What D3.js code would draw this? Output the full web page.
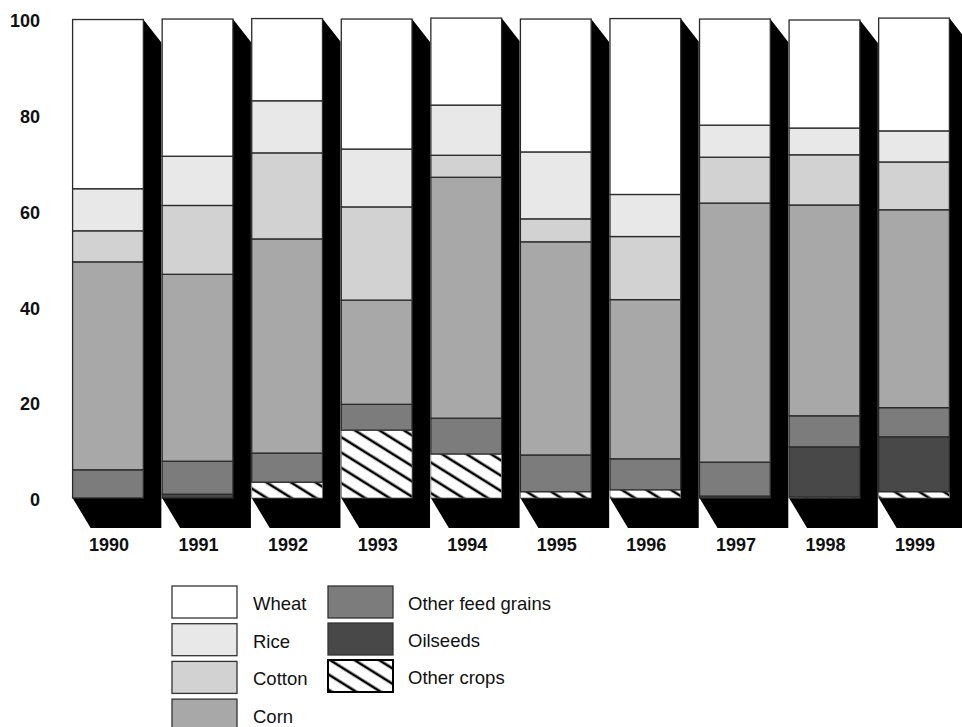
<!DOCTYPE html>
<html><head><meta charset="utf-8">
<script src="https://cdnjs.cloudflare.com/ajax/libs/d3/7.8.5/d3.min.js"></script>
<style>html,body{margin:0;padding:0;background:#fff;overflow:hidden}svg{display:block}text{font-family:"Liberation Sans",Arial,sans-serif;fill:#111}</style>
</head><body><div id="c"></div>
<script>
const years = [1990,1991,1992,1993,1994,1995,1996,1997,1998,1999];
const otherCrops = [0,0,3.3,14.2,9.2,1.3,1.7,0,0.2,1.3];
const oilseeds   = [0,0.8,0,0,0,0,0,0.4,10.5,11.5];
const feedGrains = [5.9,6.9,6.1,5.4,7.5,7.7,6.5,7.1,6.5,6.1];
const corn       = [43.5,39.1,44.8,21.8,50.4,44.6,33.3,54.2,44.1,41.4];
const cotton     = [6.5,14.4,18.0,19.5,4.6,4.8,13.2,9.6,10.5,10.0];
const rice       = [8.8,10.3,10.9,12.1,10.5,14.0,8.8,6.7,5.6,6.5];
const wheat      = [35.4,28.7,17.2,27.2,18.2,27.8,36.8,22.2,22.6,23.6];
const yTicks = [0,20,40,60,80,100];
const seriesNames = ["Other crops","Oilseeds","Other feed grains","Corn","Cotton","Rice","Wheat"];
const seriesValues = [otherCrops,oilseeds,feedGrains,corn,cotton,rice,wheat];
const seriesFills = ["url(#hatch)","#484848","#7c7c7c","#a8a8a8","#d2d2d2","#e8e8e8","#ffffff"];
const legendCol1 = ["Wheat","Rice","Cotton","Corn"];
const legendCol2 = ["Other feed grains","Oilseeds","Other crops"];

const W=962,H=727;
const FONT='"Liberation Sans",Arial,sans-serif';
const svg=d3.select("#c").append("svg").attr("width",W).attr("height",H);
const defs=svg.append("defs");
const pat=defs.append("pattern").attr("id","hatch").attr("patternUnits","userSpaceOnUse")
  .attr("width",13).attr("height",13).attr("patternTransform","rotate(32)");
pat.append("rect").attr("width",13).attr("height",13).attr("fill","#fff");
pat.append("rect").attr("y",6.6).attr("width",13).attr("height",2.6).attr("fill","#000");

const x=d3.scaleBand().domain(years).range([72.6,949.4]).paddingInner(0.21).paddingOuter(0);
const y=d3.scaleLinear().domain([0,100]).range([498,20]);
const yAxisScale=d3.scaleLinear().domain([0,100]).range([500,21]);
const depthX=18, depthBottom=30, depthTop=23;

const rows=years.map((yr,i)=>{
  let acc=0;
  const segs=seriesNames.map((n,k)=>{const v=seriesValues[k][i];const s={name:n,k,y0:acc,y1:acc+v,v};acc+=v;return s;});
  return {yr,segs,total:acc};
});

const g=svg.selectAll("g.bar").data(rows).join("g").attr("class","bar");
g.append("path").attr("fill","#000").attr("d",d=>{
  const l=x(d.yr),r=l+x.bandwidth(),t=y(d.total),b=y(0);
  return d3.line()([[r,t],[r+depthX,t+depthTop],[r+depthX,b+depthBottom],[l+depthX,b+depthBottom],[l,b],[r,b]])+"Z";
});
g.selectAll("rect").data(d=>d.segs.filter(s=>s.v>0).map(s=>({...s,yr:d.yr}))).join("rect")
  .attr("x",d=>x(d.yr)).attr("width",x.bandwidth())
  .attr("y",d=>y(d.y1)).attr("height",d=>y(d.y0)-y(d.y1))
  .attr("fill",d=>seriesFills[d.k]).attr("stroke",d=>d.k===0?"#666":"#2a2a2a").attr("stroke-width",d=>d.k===0?0.8:1.3);

const yA=svg.append("g").attr("transform","translate(40,0)").call(d3.axisLeft(yAxisScale).tickValues(yTicks).tickSize(0).tickPadding(0));
yA.select(".domain").remove();
yA.selectAll("text").attr("font-size",18).attr("font-weight","bold").style("font-family",FONT).attr("fill","#111");

const xA=svg.append("g").attr("transform","translate(1,538)").call(d3.axisBottom(x).tickSize(0).tickPadding(0));
xA.select(".domain").remove();
xA.selectAll("text").attr("font-size",18).attr("font-weight","bold").style("font-family",FONT).attr("fill","#111");

const fillFor=n=>seriesFills[seriesNames.indexOf(n)];
function legend(names,xs,xt,step){
  const s=svg.append("g");
  names.forEach((n,i)=>{
    const top=586+i*step;
    s.append("rect").attr("x",xs).attr("y",top).attr("width",65).attr("height",32)
      .attr("fill",fillFor(n)).attr("stroke",n==="Other crops"?"#000":"#333").attr("stroke-width",n==="Other crops"?2:1.3);
    s.append("text").attr("x",xt).attr("y",top+24).attr("font-size",18.5).attr("fill","#111").text(n);
  });
}
legend(legendCol1,172,253,37.7);
legend(legendCol2,328,408,37);
</script></body></html>
